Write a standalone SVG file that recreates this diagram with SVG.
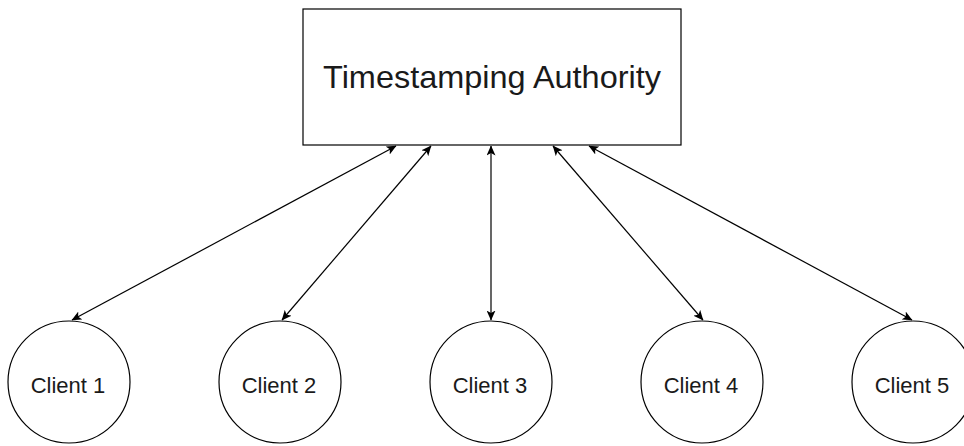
<svg xmlns="http://www.w3.org/2000/svg" width="964" height="446" viewBox="0 0 964 446">
  <style>
    .box { fill: #ffffff; stroke: #000000; stroke-width: 1.2; }
    .node { fill: #ffffff; stroke: #000000; stroke-width: 1.2; }
    .label { font-family: "Liberation Sans", Arial, sans-serif; fill: #1a1a1a; text-anchor: middle; }
    .edge { stroke: #000000; stroke-width: 1.2; fill: none; marker-start: url(#arrow); marker-end: url(#arrow); }
  </style>
  <defs>
    <!-- filled classic arrowhead, used at both ends of every connector -->
    <marker id="arrow" viewBox="0 0 10 9" refX="9.5" refY="4.5" markerWidth="10" markerHeight="9" markerUnits="userSpaceOnUse" orient="auto-start-reverse">
      <path d="M0,0 L10,4.5 L0,9 L2.5,4.5 Z" fill="#000000"/>
    </marker>
  </defs>
  <rect width="964" height="446" fill="#ffffff"/>

  <g id="authority">
    <rect class="box" x="303" y="9" width="378" height="136"/>
    <text class="label" x="492" y="88" font-size="32" textLength="338" lengthAdjust="spacingAndGlyphs">Timestamping Authority</text>
  </g>

  <g id="client1">
    <circle class="node" cx="69" cy="382" r="61"/>
    <text class="label" x="68" y="393" font-size="22">Client 1</text>
  </g>
  <g id="client2">
    <circle class="node" cx="280" cy="382" r="61"/>
    <text class="label" x="279" y="393" font-size="22">Client 2</text>
  </g>
  <g id="client3">
    <circle class="node" cx="491" cy="382" r="61"/>
    <text class="label" x="490" y="393" font-size="22">Client 3</text>
  </g>
  <g id="client4">
    <circle class="node" cx="702" cy="382" r="61"/>
    <text class="label" x="701" y="393" font-size="22">Client 4</text>
  </g>
  <g id="client5">
    <circle class="node" cx="913" cy="382" r="61"/>
    <text class="label" x="912" y="393" font-size="22">Client 5</text>
  </g>

  <g id="connectors">
    <line class="edge" x1="396" y1="146" x2="72" y2="320"/>
    <line class="edge" x1="431" y1="146" x2="282" y2="320"/>
    <line class="edge" x1="491" y1="146" x2="491" y2="320"/>
    <line class="edge" x1="553" y1="146" x2="703" y2="320"/>
    <line class="edge" x1="589" y1="146" x2="912" y2="320"/>
  </g>
</svg>
